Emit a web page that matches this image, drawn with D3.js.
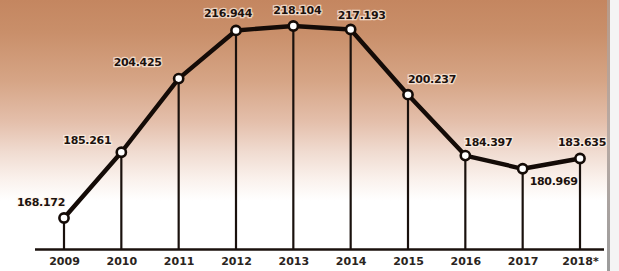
<!DOCTYPE html>
<html>
<head>
<meta charset="utf-8">
<script src="https://cdn.jsdelivr.net/npm/d3@7"></script>
<style>
    body { margin: 0; background: #fff; }
    svg { display: block; }
    .val { font-family: 'DejaVu Sans', sans-serif; font-weight: bold; font-size: 11px; letter-spacing: -0.3px; fill: #1c120e; paint-order: stroke; stroke: rgba(255,245,235,0.7); stroke-width: 2.5px; }
    .tick text { font-family: 'DejaVu Sans', sans-serif; font-weight: bold; font-size: 11px; fill: #2a2420; }
</style>
</head>
<body>
<svg id="chart" width="619" height="271"></svg>
<script>
const years = ['2009', '2010', '2011', '2012', '2013', '2014', '2015', '2016', '2017', '2018*']
const values = [168.172, 185.261, 204.425, 216.944, 218.104, 217.193, 200.237, 184.397, 180.969, 183.635]
const valueLabels = ['168.172', '185.261', '204.425', '216.944', '218.104', '217.193', '200.237', '184.397', '180.969', '183.635']

// label offsets from each point, as in the original
const labelOffset = [[-23, -12], [-34, -8], [-41, -13], [-8, -13], [4, -12], [11, -10], [24, -12], [23, -10], [31, 16], [2, -13]]

const width = 619
const height = 271
const baseY = 249.4

const svg = d3.select('#chart')

// background
const defs = svg.append('defs')
const grad = defs.append('linearGradient')
    .attr('id', 'bg-grad')
    .attr('x1', 0).attr('y1', 0).attr('x2', 0).attr('y2', 1)
grad.selectAll('stop')
    .data([
        [0, '#c48660'], [0.12, '#c98f6a'], [0.3, '#d6a586'],
        [0.45, '#e4bfab'], [0.56, '#f0dbd0'], [0.66, '#faf1ec'], [0.74, '#ffffff'], [1, '#ffffff']
    ])
    .enter().append('stop')
    .attr('offset', d => d[0])
    .attr('stop-color', d => d[1])

const edge = defs.append('linearGradient')
    .attr('id', 'edge-grad')
    .attr('x1', 0).attr('y1', 0).attr('x2', 0).attr('y2', 1)
edge.selectAll('stop')
    .data([[0, '#b89a88'], [0.5, '#b8aaa4'], [1, '#9c9c9c']])
    .enter().append('stop')
    .attr('offset', d => d[0])
    .attr('stop-color', d => d[1])

svg.append('rect')
    .attr('width', 608).attr('height', height)
    .attr('fill', 'url(#bg-grad)')
svg.append('rect')
    .attr('x', 607).attr('width', 3).attr('height', height)
    .attr('fill', 'url(#edge-grad)')
svg.append('rect')
    .attr('x', 610).attr('width', 9).attr('height', height)
    .attr('fill', '#f4f4f4')

const x = d3.scalePoint()
    .domain(years)
    .range([64, 580])

const y = d3.scaleLinear()
    .domain([160, 220])
    .range([baseY, 18.7])

const data = years.map((yr, i) => ({ year: yr, value: values[i], label: valueLabels[i], off: labelOffset[i] }))

// drop lines
svg.append('g')
    .selectAll('line')
    .data(data)
    .enter().append('line')
    .attr('x1', d => x(d.year))
    .attr('x2', d => x(d.year))
    .attr('y1', d => y(d.value))
    .attr('y2', baseY)
    .attr('stroke', '#1a110d')
    .attr('stroke-width', 2.2)

// baseline
svg.append('line')
    .attr('x1', 35).attr('x2', 604)
    .attr('y1', baseY).attr('y2', baseY)
    .attr('stroke', '#1a110d')
    .attr('stroke-width', 2.5)

const axis = svg.append('g')
    .attr('transform', `translate(0,${baseY})`)
    .call(d3.axisBottom(x).tickSize(0).tickPadding(8))
axis.select('.domain').remove()

// line
const line = d3.line()
    .x(d => x(d.year))
    .y(d => y(d.value))

svg.append('path')
    .datum(data)
    .attr('fill', 'none')
    .attr('stroke', '#140b07')
    .attr('stroke-width', 4.4)
    .attr('stroke-linejoin', 'round')
    .attr('d', line)

svg.append('g')
    .selectAll('circle')
    .data(data)
    .enter().append('circle')
    .attr('cx', d => x(d.year))
    .attr('cy', d => y(d.value))
    .attr('r', 4.6)
    .attr('fill', '#fff')
    .attr('stroke', '#140b07')
    .attr('stroke-width', 2.6)

svg.append('g')
    .selectAll('text')
    .data(data)
    .enter().append('text')
    .attr('class', 'val')
    .attr('x', d => x(d.year) + d.off[0])
    .attr('y', d => y(d.value) + d.off[1])
    .attr('text-anchor', 'middle')
    .text(d => d.label)
</script>
</body>
</html>
